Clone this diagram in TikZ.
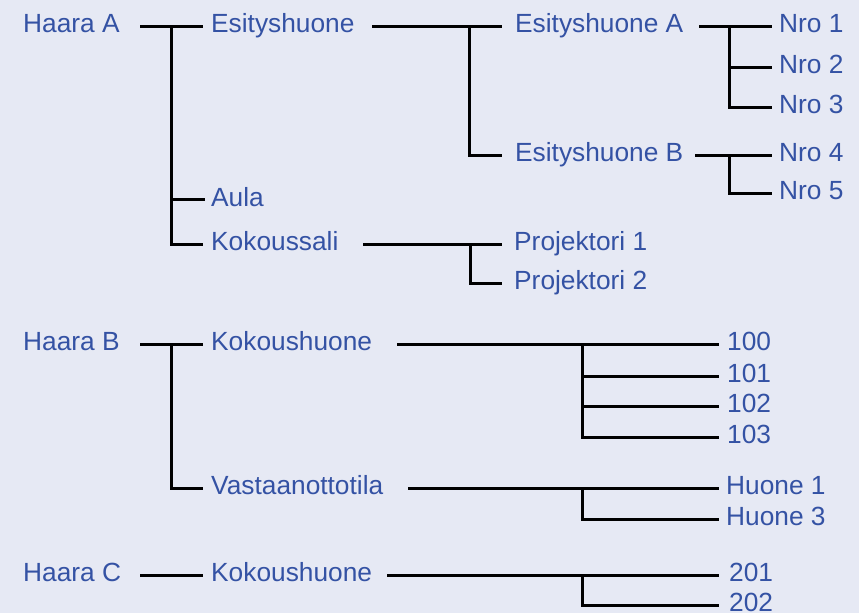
\documentclass[tikz,border=0pt]{standalone}
\usepackage{fontspec}
\setmainfont{Liberation Sans}
\definecolor{bgc}{RGB}{230,233,244}
\definecolor{txt}{RGB}{52,82,164}
\tikzset{
  lbl/.style={anchor=base west, inner sep=0pt, text=txt, font=\fontsize{26.3}{30}\selectfont},
  conn/.style={draw=black, line width=3pt},
}
\begin{document}
\begin{tikzpicture}[x=1pt,y=-1pt]
\fill[bgc] (0,0) rectangle (859,613);
\useasboundingbox (0,0) rectangle (859,613);
% labels: baseline = line y + 6
\node[lbl] (hA) at (23,32) {Haara A};
\node[lbl] (es) at (211,32) {Esityshuone};
\node[lbl] (esA) at (515,32) {Esityshuone A};
\node[lbl] (n1) at (779,32) {Nro 1};
\node[lbl] (n2) at (779,73) {Nro 2};
\node[lbl] (n3) at (779,113) {Nro 3};
\node[lbl] (esB) at (515,161) {Esityshuone B};
\node[lbl] (n4) at (779,161) {Nro 4};
\node[lbl] (n5) at (779,199) {Nro 5};
\node[lbl] (aula) at (211,206) {Aula};
\node[lbl] (ks) at (211,250) {Kokoussali};
\node[lbl] (p1) at (514,250) {Projektori 1};
\node[lbl] (p2) at (514,289) {Projektori 2};
\node[lbl] (hB) at (23,350) {Haara B};
\node[lbl] (kh1) at (211,350) {Kokoushuone};
\node[lbl] (r100) at (727,350) {100};
\node[lbl] (r101) at (727,382) {101};
\node[lbl] (r102) at (727,412) {102};
\node[lbl] (r103) at (727,443) {103};
\node[lbl] (vt) at (211,494) {Vastaanottotila};
\node[lbl] (h1) at (726,494) {Huone 1};
\node[lbl] (h3) at (726,525) {Huone 3};
\node[lbl] (hC) at (23,581) {Haara C};
\node[lbl] (kh2) at (211,581) {Kokoushuone};
\node[lbl] (r201) at (729,581) {201};
\node[lbl] (r202) at (729,611) {202};
% coordinates
\coordinate (a0) at (140,26); \coordinate (a1) at (171,26); \coordinate (a2) at (203,26);
\coordinate (a3) at (171,199); \coordinate (a4) at (205,199);
\coordinate (a5) at (171,244); \coordinate (a6) at (203,244);
\coordinate (e0) at (372,26); \coordinate (e1) at (469,26); \coordinate (e2) at (502,26);
\coordinate (e3) at (469,155); \coordinate (e4) at (502,155);
\coordinate (f0) at (699,26); \coordinate (f1) at (729,26); \coordinate (f2) at (772,26);
\coordinate (f3) at (729,67); \coordinate (f4) at (772,67);
\coordinate (f5) at (729,107); \coordinate (f6) at (772,107);
\coordinate (g0) at (695,155); \coordinate (g1) at (729,155); \coordinate (g2) at (772,155);
\coordinate (g3) at (729,193); \coordinate (g4) at (772,193);
\coordinate (k0) at (363,244); \coordinate (k1) at (470,244); \coordinate (k2) at (502,244);
\coordinate (k3) at (470,283); \coordinate (k4) at (502,283);
\coordinate (b0) at (140,344); \coordinate (b1) at (171,344); \coordinate (b2) at (203,344);
\coordinate (b3) at (171,488); \coordinate (b4) at (203,488);
\coordinate (m0) at (397,344); \coordinate (m1) at (582,344); \coordinate (m2) at (719,344);
\coordinate (m3) at (582,376); \coordinate (m4) at (719,376);
\coordinate (m5) at (582,406); \coordinate (m6) at (719,406);
\coordinate (m7) at (582,437); \coordinate (m8) at (719,437);
\coordinate (v0) at (408,488); \coordinate (v1) at (582,488); \coordinate (v2) at (719,488);
\coordinate (v3) at (582,519); \coordinate (v4) at (719,519);
\coordinate (c0) at (140,575); \coordinate (c1) at (203,575);
\coordinate (d0) at (387,575); \coordinate (d1) at (582,575); \coordinate (d2) at (719,575);
\coordinate (d3) at (582,605); \coordinate (d4) at (719,605);
% connectors
\draw[conn] (a0) -- (a2);
\draw[conn] (a1) -- (a5) -- (a6);
\draw[conn] (a3) -- (a4);
\draw[conn] (e0) -- (e2);
\draw[conn] (e1) -- (e3) -- (e4);
\draw[conn] (f0) -- (f2);
\draw[conn] (f1) -- (f5) -- (f6);
\draw[conn] (f3) -- (f4);
\draw[conn] (g0) -- (g2);
\draw[conn] (g1) -- (g3) -- (g4);
\draw[conn] (k0) -- (k2);
\draw[conn] (k1) -- (k3) -- (k4);
\draw[conn] (b0) -- (b2);
\draw[conn] (b1) -- (b3) -- (b4);
\draw[conn] (m0) -- (m2);
\draw[conn] (m1) -- (m7) -- (m8);
\draw[conn] (m3) -- (m4);
\draw[conn] (m5) -- (m6);
\draw[conn] (v0) -- (v2);
\draw[conn] (v1) -- (v3) -- (v4);
\draw[conn] (c0) -- (c1);
\draw[conn] (d0) -- (d2);
\draw[conn] (d1) -- (d3) -- (d4);
\end{tikzpicture}
\end{document}
